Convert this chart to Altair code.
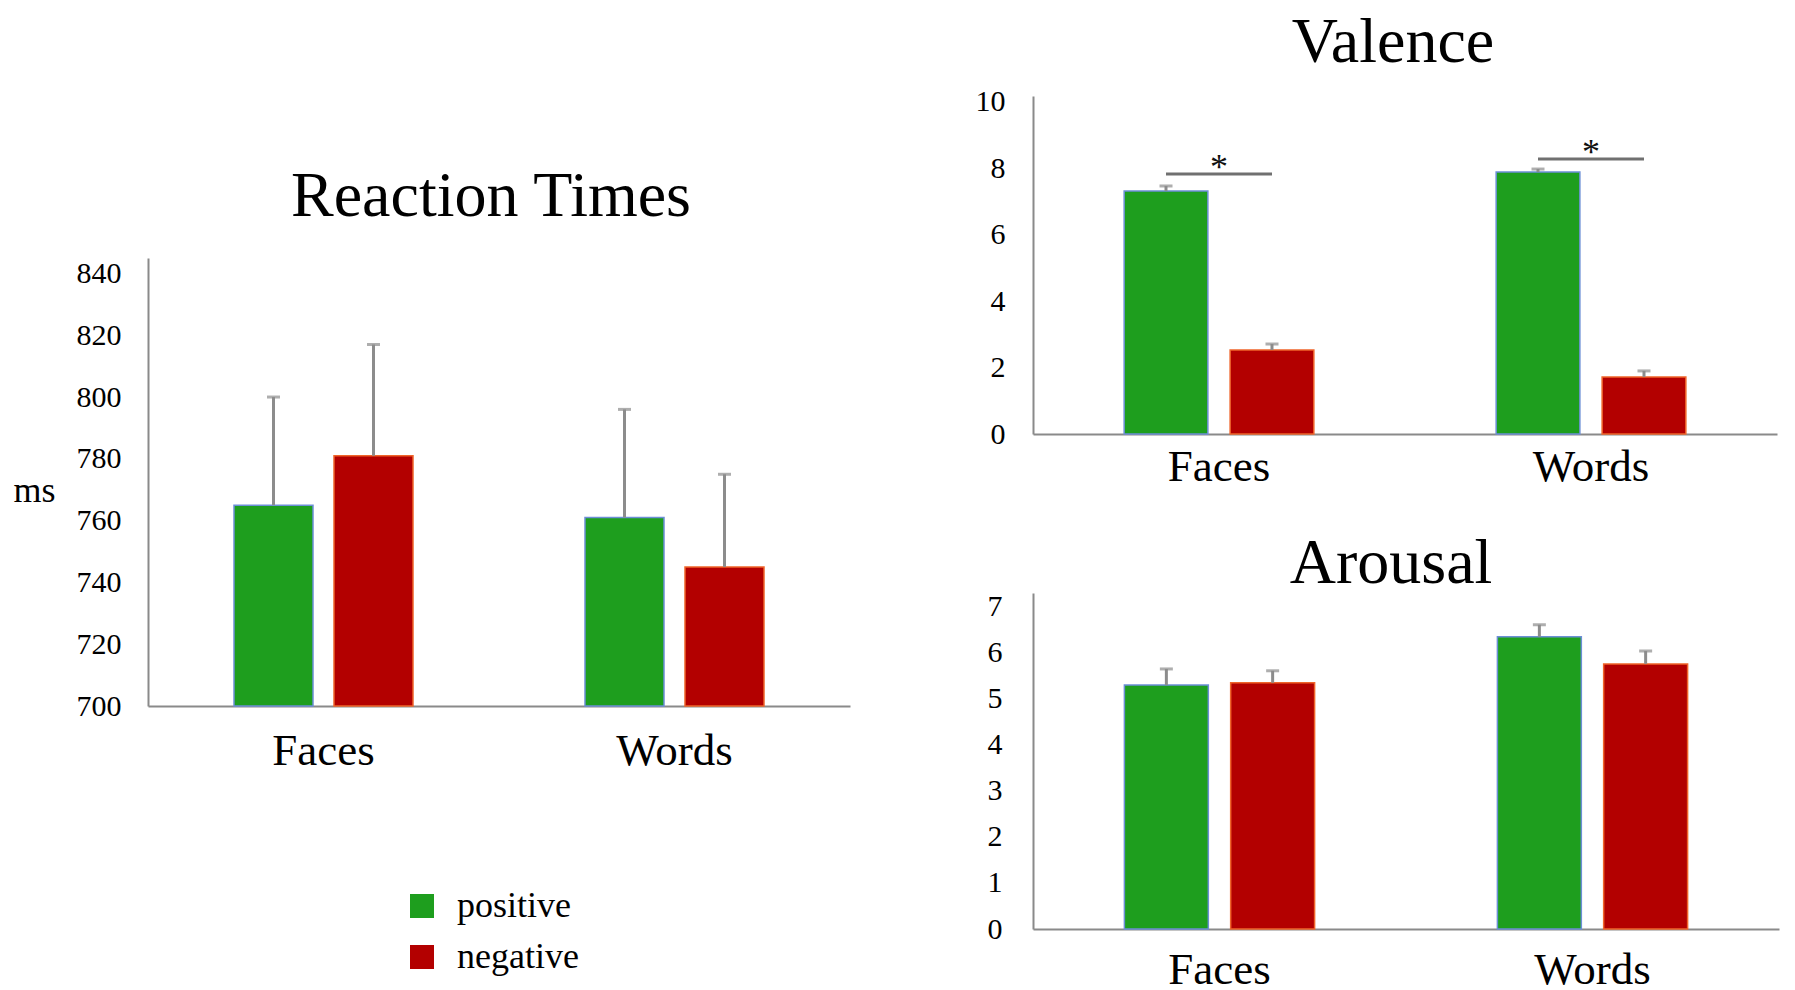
import altair as alt
import pandas as pd

# ---------------- data ----------------
categories = ["Faces", "Words"]
groups = ["positive", "negative"]

# order: Faces-positive, Faces-negative, Words-positive, Words-negative
rt_mean = [765, 781, 761, 745]
rt_err = [35, 36, 35, 30]
rt_ticks = [700, 720, 740, 760, 780, 800, 820, 840]

val_mean = [7.32, 2.53, 7.89, 1.72]
val_err = [0.15, 0.18, 0.09, 0.18]
val_ticks = [0, 2, 4, 6, 8, 10]
val_sig = [7.83, 8.28]

aro_mean = [5.30, 5.35, 6.35, 5.76]
aro_err = [0.35, 0.26, 0.26, 0.28]
aro_ticks = [0, 1, 2, 3, 4, 5, 6, 7]

bar_colors = ["#1E9E1E", "#B30000"]
bar_outline = ["#6C8FD6", "#F0642A"]

SERIF = "Liberation Serif"
AXIS_GREY = "#8a8a8a"
ERR_GREY = "#8c8c8c"


def make_df(means, errs):
    rows = []
    for i, c in enumerate(categories):
        for j, g in enumerate(groups):
            k = i * 2 + j
            rows.append({"category": c, "group": g, "mean": means[k],
                         "top": means[k] + errs[k]})
    return pd.DataFrame(rows)


legend = alt.Legend(title=None, orient="none", legendX=256, legendY=792,
                    symbolType="square", symbolSize=576, symbolStrokeWidth=0,
                    labelFont=SERIF, labelFontSize=36, labelColor="black",
                    rowPadding=15, labelOffset=17, padding=0, direction="vertical")


def panel(df, width, height, domain, ticks, base, title_text, title_size,
          title_offset, title_dx, ylab_pad, xlab_pad, yaxis_extra=None,
          sig=None, sig_size=106):
    x_axis = alt.Axis(title=None, labelAngle=0, labelFontSize=45, labelFont=SERIF,
                      labelColor="black", labelPadding=xlab_pad, ticks=False,
                      tickSize=0, domainColor=AXIS_GREY, domainWidth=2, grid=False)
    x = alt.X("category:N", sort=categories,
              scale=alt.Scale(paddingInner=0, paddingOuter=0), axis=x_axis)
    xo = alt.XOffset("group:N", sort=groups,
                     scale=alt.Scale(domain=groups, paddingInner=0.21, paddingOuter=0.86))
    ykw = dict(values=ticks, ticks=False, tickSize=0, grid=False, labelFontSize=30,
               labelFont=SERIF, labelColor="black", labelPadding=ylab_pad,
               domainColor=AXIS_GREY, domainWidth=2, labelFlush=False,
               labelOverlap=False)
    if yaxis_extra:
        ykw.update(yaxis_extra)
    else:
        ykw["title"] = None
    y_axis = alt.Axis(**ykw)
    y_scale = alt.Scale(domain=domain, nice=False, zero=False)

    bars = alt.Chart(df).mark_bar(strokeWidth=1.5).encode(
        x=x, xOffset=xo,
        y=alt.Y("mean:Q", scale=y_scale, axis=y_axis),
        y2=alt.datum(base),
        color=alt.Color("group:N", sort=groups,
                        scale=alt.Scale(domain=groups, range=bar_colors), legend=legend),
        stroke=alt.Stroke("group:N", sort=groups,
                          scale=alt.Scale(domain=groups, range=bar_outline), legend=None),
    )
    err = alt.Chart(df).mark_rule(color=ERR_GREY, strokeWidth=3).encode(
        x=x, xOffset=xo,
        y=alt.Y("mean:Q", scale=y_scale, axis=y_axis),
        y2="top:Q",
    )
    cap = alt.Chart(df).mark_tick(color=ERR_GREY, size=13, thickness=3).encode(
        x=x, xOffset=xo,
        y=alt.Y("top:Q", scale=y_scale, axis=y_axis),
    )
    layers = [bars, err, cap]
    if sig is not None:
        sdf = pd.DataFrame({"category": categories, "sig": sig})
        line = alt.Chart(sdf).mark_tick(color="#333333", size=sig_size, thickness=3).encode(
            x=x, y=alt.Y("sig:Q", scale=y_scale, axis=y_axis))
        star = alt.Chart(sdf).mark_text(text="*", font=SERIF, fontSize=36,
                                        baseline="alphabetic", dy=5,
                                        color="#111111").encode(
            x=x, y=alt.Y("sig:Q", scale=y_scale, axis=y_axis))
        layers += [line, star]
    return alt.layer(*layers).properties(
        width=width, height=height,
        title=alt.Title(title_text, font=SERIF, fontSize=title_size,
                        fontWeight="normal", color="black",
                        offset=title_offset, dx=title_dx, anchor="middle"),
    )


rt = panel(make_df(rt_mean, rt_err), 702, 448, [700, 845], rt_ticks, 700,
           "Reaction Times", 64, 29, -8, 27, 22,
           yaxis_extra=dict(title="ms", titleAngle=0, titleFontSize=36,
                            titleFont=SERIF, titleFontWeight="normal",
                            titleColor="black", titleX=-114, titleY=232,
                            titleAlign="center", titleBaseline="middle"))
val = panel(make_df(val_mean, val_err), 744, 338, [0, 10.18], val_ticks, 0,
            "Valence", 64, 12, -12, 28, 10, sig=val_sig, sig_size=106)
aro = panel(make_df(aro_mean, aro_err), 746, 336, [0, 7.3], aro_ticks, 0,
            "Arousal", 64, -4, -15, 31, 18)

spacer = alt.Chart(pd.DataFrame({"v": [0]})).mark_point(opacity=0, size=1).encode(
    x=alt.value(1), y=alt.value(1)).properties(width=702, height=67)

left = alt.vconcat(spacer, rt, spacing=0)
right = alt.vconcat(val, aro, spacing=41).resolve_scale(
    x="independent", y="independent", xOffset="independent")

chart = alt.hconcat(left, right, spacing=123).resolve_scale(
    x="independent", y="independent", xOffset="independent"
).properties(
    padding={"left": 4, "top": 2, "right": 0, "bottom": 0}
).configure_view(stroke="transparent")

chart.save("out.html", embed_options={"renderer": "svg", "actions": False})
